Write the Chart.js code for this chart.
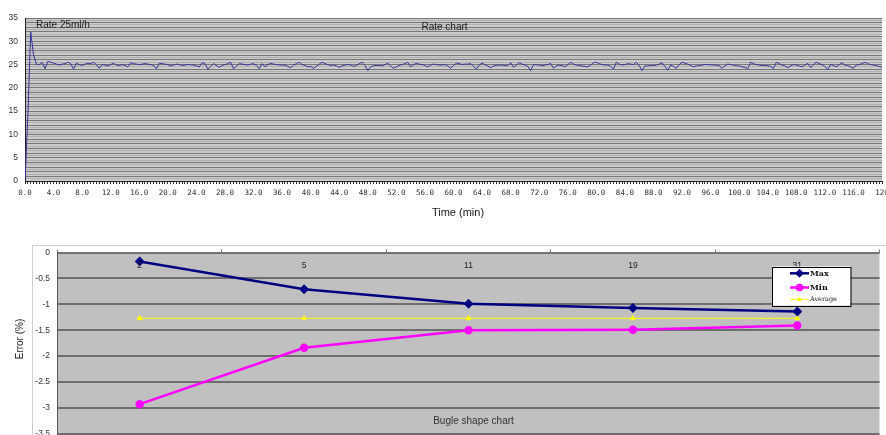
<!DOCTYPE html>
<html><head><meta charset="utf-8">
<script src="https://cdn.jsdelivr.net/npm/chart.js@4/dist/chart.umd.min.js"></script>
<style>
html,body{margin:0;padding:0;background:#fff;overflow:hidden;width:886px;height:435px;}
#c1{position:absolute;left:0;top:0;}
#frame{position:absolute;left:32px;top:245px;width:860px;height:200px;border-top:1px solid #cfcfcf;border-left:1px solid #cfcfcf;}
#c2{position:absolute;left:0;top:240px;}
</style></head><body>
<canvas id="c1" width="886" height="235"></canvas>
<div id="frame"></div>
<canvas id="c2" width="886" height="240"></canvas>
<script>
// ---------- Data: rate chart ----------
const RATE_SAMPLE_MIN = 0.4;   // sampling interval (minutes)
const RATE = [
 0,14,32,27,25.1,25.0,25.5,24.1,25.7,25.5,
 25.3,25.1,24.9,25.1,25.2,25.5,25.2,24.0,25.3,25.0,
 24.8,25.1,25.3,25.2,25.5,25.0,24.2,25.0,24.9,24.7,
 25.0,25.3,24.9,24.8,25.0,24.8,24.5,25.4,25.2,25.1,
 25.0,25.1,25.2,25.1,25.0,24.8,24.1,25.3,25.2,25.1,
 25.0,24.7,24.9,25.1,25.0,24.8,24.9,25.0,24.95,24.9,
 24.7,24.5,25.4,25.2,24.0,24.6,25.2,24.8,24.4,24.8,
 25.0,25.2,25.5,24.1,24.6,25.2,25.1,25.0,24.9,25.1,
 25.2,24.8,24.1,25.2,24.5,25.0,25.3,25.1,25.0,24.9,
 24.9,24.85,24.6,24.3,24.9,25.2,25.5,25.0,24.8,24.5,
 24.6,24.2,24.6,25.1,25.5,25.2,25.0,24.8,24.9,24.7,
 24.4,24.7,24.9,25.0,24.9,24.6,24.8,25.2,25.5,24.8,
 23.7,24.5,24.75,24.8,24.8,24.7,25.0,25.3,24.7,24.2,
 24.5,24.8,25.0,25.2,25.5,24.5,25.0,25.25,25.1,25.0,
 24.8,24.5,24.9,25.1,25.0,24.9,24.9,25.0,24.7,24.2,
 24.8,25.3,25.2,25.0,25.1,25.1,25.2,24.7,24.0,24.9,
 25.3,25.0,24.7,24.3,24.7,24.8,24.9,24.9,24.8,24.75,
 25.4,24.4,24.9,25.4,25.1,24.9,24.6,23.7,25.0,24.95,
 24.9,24.75,24.9,25.0,25.25,24.2,24.7,24.9,24.8,24.5,
 25.0,25.5,25.1,24.9,24.8,24.7,24.6,24.5,24.9,25.4,
 25.5,25.2,25.0,24.9,24.9,24.6,24.0,25.5,25.1,24.9,
 25.0,25.2,25.1,25.0,25.5,24.8,23.7,24.7,24.7,24.8,
 24.75,24.9,25.1,25.4,24.6,23.8,24.9,24.6,24.2,25.0,
 25.5,25.3,25.1,24.8,24.5,24.7,24.75,24.9,25.0,25.0,
 24.95,24.9,24.85,24.75,24.2,24.7,25.1,25.0,24.9,24.75,
 24.7,24.5,24.4,24.1,25.5,25.2,25.0,24.9,24.8,24.8,
 24.75,24.6,24.1,25.5,25.2,24.9,24.7,24.3,24.7,25.0,
 24.9,24.7,24.5,24.9,25.25,24.3,25.0,25.5,25.2,25.0,
 24.6,23.9,25.0,24.8,24.5,25.0,25.4,24.9,24.8,24.5,
 24.2,24.9,25.0,25.2,25.5,25.2,25.0,24.9,24.75,24.6,
 24.4
];
const TIME_TICK_LABELS = ['0.0','4.0','8.0','12.0','16.0','20.0','24.0','28.0','32.0','36.0',
 '40.0','44.0','48.0','52.0','56.0','60.0','64.0','68.0','72.0','76.0','80.0','84.0','88.0',
 '92.0','96.0','100.0','104.0','108.0','112.0','116.0','120'];

// ---------- Data: bugle chart ----------
const BUGLE_CATEGORIES = ['2','5','11','19','31'];
const ERR_MAX = [-0.17,-0.71,-0.99,-1.07,-1.14];
const ERR_MIN = [-2.93,-1.84,-1.50,-1.49,-1.41];
const ERR_AVG = [-1.27,-1.27,-1.27,-1.27,-1.27];

// ---------- Plugins ----------
const decor = {
  id:'decor',
  beforeDraw(chart, args, o){
    const a = chart.chartArea, ctx = chart.ctx;
    ctx.save(); ctx.fillStyle = o.bg || '#c0c0c0';
    ctx.fillRect(a.left, a.top, a.right-a.left, a.bottom-a.top); ctx.restore();
  },
  afterDatasetsDraw(chart, args, o){
    if (!o.innerXLabels) return;
    const ctx = chart.ctx, sx = chart.scales.x, I = o.innerXLabels;
    ctx.save();
    ctx.font = I.font; ctx.fillStyle = I.color; ctx.textAlign='center'; ctx.textBaseline='middle';
    chart.data.labels.forEach((lab,i)=>{
      ctx.fillText(lab, sx.getPixelForTick(i), chart.chartArea.top + I.dy);
    });
    ctx.restore();
  },
  afterDraw(chart, args, o){
    const ctx = chart.ctx;
    (o.texts||[]).forEach(t=>{
      ctx.save();
      ctx.font = t.font; ctx.fillStyle = t.color || '#222';
      ctx.textAlign = t.align || 'center'; ctx.textBaseline = 'middle';
      ctx.translate(t.x, t.y); if (t.rot) ctx.rotate(t.rot);
      ctx.fillText(t.text, 0, 0); ctx.restore();
    });
    if (o.legend){
      const L = o.legend;
      ctx.save();
      ctx.fillStyle = '#fff'; ctx.fillRect(L.x, L.y, L.w, L.h);
      ctx.strokeStyle = '#000'; ctx.lineWidth = 1;
      ctx.strokeRect(Math.round(L.x)+0.5, Math.round(L.y)+0.5, L.w, L.h);
      chart.data.datasets.forEach((ds,i)=>{
        const y = L.y + L.rows[i];
        ctx.strokeStyle = ds.borderColor; ctx.lineWidth = ds.borderWidth;
        ctx.beginPath(); ctx.moveTo(L.x+18, y); ctx.lineTo(L.x+37, y); ctx.stroke();
        ctx.fillStyle = ds.pointBackgroundColor; ctx.strokeStyle = ds.pointBorderColor;
        Chart.helpers.drawPoint(ctx, {pointStyle: ds.pointStyle, radius: ds.pointRadius-0.5, rotation:0, borderWidth:1}, L.x+27.5, y);
        ctx.fillStyle = '#111';
        ctx.font = L.fonts[i]; ctx.textAlign='left'; ctx.textBaseline='middle';
        ctx.fillText(ds.label, L.x+38, y+0.5);
      });
      ctx.restore();
    }
  }
};

// ---------- Rate chart ----------
new Chart(document.getElementById('c1'), {
  type:'line',
  data:{datasets:[{label:'Rate', data: RATE.map((v,i)=>({x:i*RATE_SAMPLE_MIN, y:v})),
    borderColor:'#34349e', borderWidth:1, pointRadius:0, tension:0, fill:false}]},
  options:{
    responsive:false, animation:false, devicePixelRatio:1,
    layout:{padding:{top:18,right:4,left:0,bottom:0}},
    plugins:{legend:{display:false}, tooltip:{enabled:false},
      decor:{bg:'#cbcbcb', texts:[
        {text:'Rate 25ml/h', x:36, y:25, align:'left', font:'10px "Liberation Sans"', color:'#222'},
        {text:'Rate chart', x:444.5, y:27, font:'10px "Liberation Sans"', color:'#222'},
        {text:'Time (min)', x:458, y:213, font:'11px "Liberation Sans"', color:'#222'}
      ]}},
    scales:{
      x:{type:'linear', min:0, max:120,
        ticks:{stepSize:RATE_SAMPLE_MIN, autoSkip:false, maxRotation:0, minRotation:0, padding:5,
          font:{family:'DejaVu Sans Mono', size:7.5}, color:'#333',
          callback:(v,i)=> (i%10===0 ? TIME_TICK_LABELS[i/10] : '')},
        grid:{drawOnChartArea:false, drawTicks:true, tickLength:3, color:'#333'},
        border:{color:'#222', width:1},
        afterFit(s){ s.height = 54; s.paddingLeft = 0; s.paddingRight = 0; }
      },
      y:{min:0, max:35,
        ticks:{stepSize:0.5, autoSkip:false, padding:7,
          callback:v=> (Math.abs(v%5)<1e-9 ? String(v) : ''),
          font:{family:'Liberation Sans', size:8.5}, color:'#333'},
        grid:{drawTicks:false, lineWidth:1,
          color:c=> (c.tick && Math.abs(c.tick.value-Math.round(c.tick.value))<1e-6) ? '#777777' : '#b0b0b0'},
        border:{color:'#222', width:1},
        afterFit(s){ s.width = 25; s.paddingTop = 0; s.paddingBottom = 0; }
      }
    }
  },
  plugins:[decor]
});

// ---------- Bugle chart ----------
new Chart(document.getElementById('c2'), {
  type:'line',
  data:{labels:BUGLE_CATEGORIES, datasets:[
    {label:'Max', data:ERR_MAX, borderColor:'#000080', backgroundColor:'#000080',
     pointBackgroundColor:'#000080', pointBorderColor:'#000080', pointStyle:'rectRot', pointRadius:3.2, borderWidth:2.5, tension:0},
    {label:'Min', data:ERR_MIN, borderColor:'#ff00ff', backgroundColor:'#ff00ff',
     pointBackgroundColor:'#ff00ff', pointBorderColor:'#ff00ff', pointStyle:'circle', pointRadius:3, borderWidth:2.5, tension:0},
    {label:'Average', data:ERR_AVG, borderColor:'#ffff00', backgroundColor:'#ffff00',
     pointBackgroundColor:'#ffff00', pointBorderColor:'#ffff00', pointStyle:'triangle', pointRadius:2.8, borderWidth:1, tension:0}
  ]},
  options:{
    responsive:false, animation:false, devicePixelRatio:1,
    layout:{padding:{top:0,right:3.5,left:0,bottom:20.5}},
    plugins:{legend:{display:false}, tooltip:{enabled:false},
      decor:{bg:'#c0c0c0',
        innerXLabels:{font:'8.5px "Liberation Sans"', color:'#222', dy:13},
        texts:[
        {text:'Error (%)', x:20.7, y:99, rot:-Math.PI/2, font:'10px "Liberation Sans"', color:'#222'},
        {text:'Bugle shape chart', x:473.5, y:181.7, font:'10px "Liberation Sans"', color:'#333'}
      ],
      legend:{x:772, y:26.5, w:78.5, h:39, rows:[6.8,21,32.8],
        fonts:['bold 8px "DejaVu Serif"','bold 8px "DejaVu Serif"','6.5px "DejaVu Serif"']}}},
    scales:{
      x:{type:'category', position:'top', offset:true,
        grid:{offset:true, drawOnChartArea:false, drawTicks:true, tickLength:3, color:'#777'},
        border:{display:true, color:'#7a7a7a', width:1},
        ticks:{display:false},
        afterFit(s){ s.height = 12; }
      },
      y:{min:-4, max:0,
        ticks:{stepSize:0.5, padding:7.5, font:{family:'Liberation Sans', size:8.5}, color:'#333',
          callback:v=> String(v)},
        grid:{color:'#6e6e6e', lineWidth:2, drawTicks:false},
        border:{color:'#555', width:1},
        afterFit(s){ s.width = 57.5; }
      }
    }
  },
  plugins:[decor]
});
</script>
</body></html>
